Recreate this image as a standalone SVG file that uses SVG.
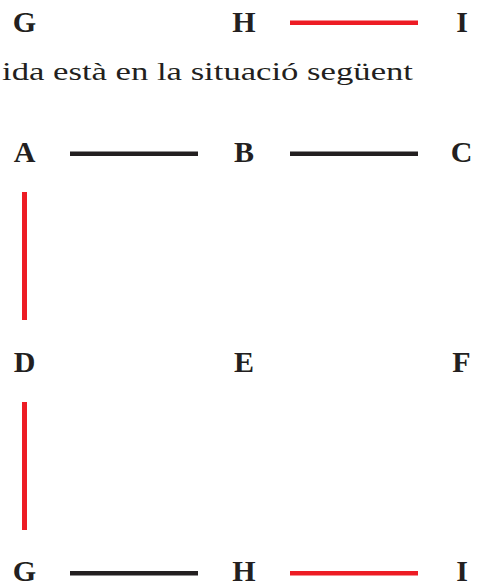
<svg xmlns="http://www.w3.org/2000/svg" width="478" height="585" viewBox="0 0 478 585">
<style>
.lbl{font-family:"Liberation Serif","Times New Roman",serif;font-weight:bold;font-size:30px;fill:#231f20;text-anchor:middle}
.txt{font-family:"Liberation Serif","Times New Roman",serif;font-size:24.5px;fill:#231f20}
.k{stroke:#231f20;stroke-width:4.5;fill:none}
.r{stroke:#ed1c24;stroke-width:4.5;fill:none}
</style>
<rect width="478" height="585" fill="#fff"/>
<g id="connectors">
<line class="r" x1="290" y1="22.7" x2="418" y2="22.7"/>
<line class="k" x1="70" y1="153.7" x2="198" y2="153.7"/>
<line class="k" x1="290" y1="153.7" x2="418" y2="153.7"/>
<line class="r" x1="24.5" y1="192" x2="24.5" y2="320" style="stroke-width:5"/>
<line class="r" x1="24.5" y1="402" x2="24.5" y2="530" style="stroke-width:5"/>
<line class="k" x1="70" y1="573.3" x2="198" y2="573.3"/>
<line class="r" x1="290" y1="573.3" x2="418" y2="573.3"/>
</g>
<g id="top-G"><text class="lbl" x="24.5" y="31.5">G</text></g>
<g id="top-H"><text class="lbl" x="244" y="31.5">H</text></g>
<g id="top-I"><text class="lbl" x="462" y="31.5">I</text></g>
<text class="txt" x="2" y="80" textLength="411" lengthAdjust="spacingAndGlyphs">ida està en la situació següent</text>
<g id="A"><text class="lbl" x="24.5" y="162">A</text></g>
<g id="B"><text class="lbl" x="244" y="162">B</text></g>
<g id="C"><text class="lbl" x="461.5" y="162">C</text></g>
<g id="D"><text class="lbl" x="24.5" y="372">D</text></g>
<g id="E"><text class="lbl" x="244" y="372">E</text></g>
<g id="F"><text class="lbl" x="461.5" y="372">F</text></g>
<g id="G"><text class="lbl" x="24.5" y="581">G</text></g>
<g id="H"><text class="lbl" x="244" y="581">H</text></g>
<g id="I"><text class="lbl" x="462" y="581">I</text></g>
</svg>
